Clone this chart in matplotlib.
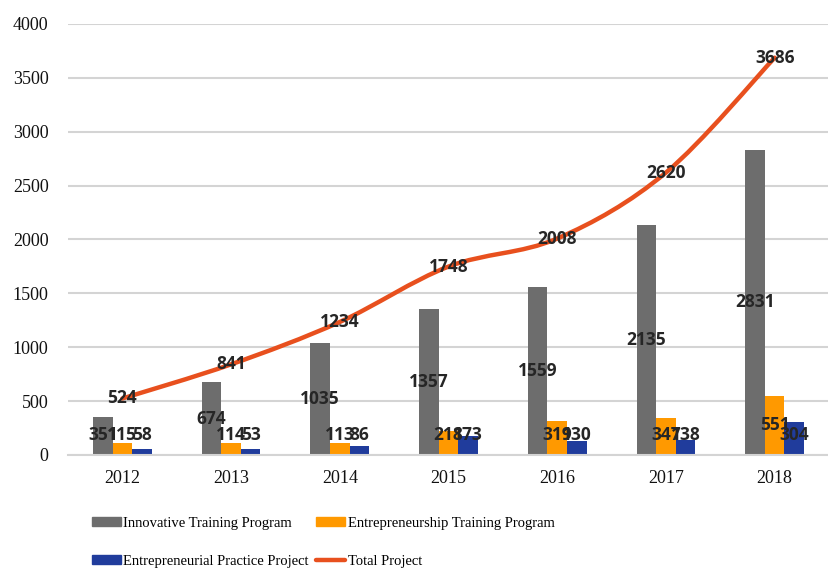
import matplotlib.pyplot as plt
from matplotlib.path import Path
from matplotlib.patches import PathPatch
from matplotlib.lines import Line2D
import numpy as np

years = ['2012', '2013', '2014', '2015', '2016', '2017', '2018']
innovative = [351, 674, 1035, 1357, 1559, 2135, 2831]
entrepreneurship = [115, 114, 113, 218, 319, 347, 551]
practice = [58, 53, 86, 173, 130, 138, 304]
total = [524, 841, 1234, 1748, 2008, 2620, 3686]

c_grey = '#6d6d6d'
c_orange = '#ff9900'
c_blue = '#203c9c'
c_line = '#e8501e'
c_grid = '#d4d4d4'
c_label = '#262626'

serif = 'Liberation Serif'
label_font = dict(family='Open Sans', weight='bold', size=12.5, color=c_label)

fig = plt.figure(figsize=(8.29, 5.68), dpi=100)
ax = fig.add_axes([0.082, 0.199, 0.918, 0.759])

x = np.arange(len(years))
w = 0.18

ax.bar(x - w, innovative, w, color=c_grey, zorder=2)
ax.bar(x, entrepreneurship, w, color=c_orange, zorder=2)
ax.bar(x + w, practice, w, color=c_blue, zorder=2)

# bar labels sit in the middle of each bar, but never lower than ~185
for xs, vals in [(x - w, innovative), (x, entrepreneurship), (x + w, practice)]:
    for xi, v in zip(xs, vals):
        ax.text(xi, max(v / 2, 185), str(v), ha='center', va='center', zorder=5, **label_font)

# smoothed total line (Bezier through the data points, like Excel's smooth line)
pts = np.column_stack([x, total]).astype(float)
ext = np.vstack([pts[0], pts, pts[-1]])
verts = [pts[0]]
codes = [Path.MOVETO]
for i in range(len(pts) - 1):
    p0, p1, p2, p3 = ext[i], ext[i + 1], ext[i + 2], ext[i + 3]
    verts += [p1 + (p2 - p0) / 6, p2 - (p3 - p1) / 6, p2]
    codes += [Path.CURVE4] * 3
ax.add_patch(PathPatch(Path(verts, codes), fill=False, edgecolor=c_line, lw=3.2,
                       capstyle='round', zorder=3))
for xi, v in zip(x, total):
    ax.text(xi, v, str(v), ha='center', va='center', zorder=5, **label_font)

ax.set_xlim(-0.5, 6.5)
ax.set_ylim(0, 4000)
ax.set_yticks(range(0, 4001, 500))
ax.set_xticks(x)
ax.set_xticklabels(years)
ax.yaxis.grid(True, color=c_grid, lw=1.5, zorder=0)
ax.set_axisbelow(True)
for s in ['top', 'right', 'left']:
    ax.spines[s].set_visible(False)
ax.spines['bottom'].set_color(c_grid)
ax.spines['bottom'].set_linewidth(1.5)
ax.tick_params(axis='both', length=0, labelsize=13)
ax.tick_params(axis='y', pad=14)
ax.tick_params(axis='x', pad=11)
for t in ax.get_xticklabels() + ax.get_yticklabels():
    t.set_family(serif)
    t.set_color('#111111')

handles = [
    plt.Rectangle((0, 0), 1, 0.6, color=c_grey),
    plt.Rectangle((0, 0), 1, 0.6, color=c_blue),
    plt.Rectangle((0, 0), 1, 0.6, color=c_orange),
    Line2D([0], [0], color=c_line, lw=3.2, solid_capstyle='round'),
]
names = ['Innovative Training Program', 'Entrepreneurial Practice Project',
         'Entrepreneurship Training Program', 'Total Project']
fig.legend(handles, names, ncol=2, loc='upper left', bbox_to_anchor=(0.111, 0.0898),
           frameon=False, prop={'family': serif, 'size': 10.5},
           handlelength=2.0, handleheight=0.55, handletextpad=0.15,
           columnspacing=0.5, labelspacing=1.7, borderpad=0, borderaxespad=0)

plt.savefig('out.png', dpi=100)
